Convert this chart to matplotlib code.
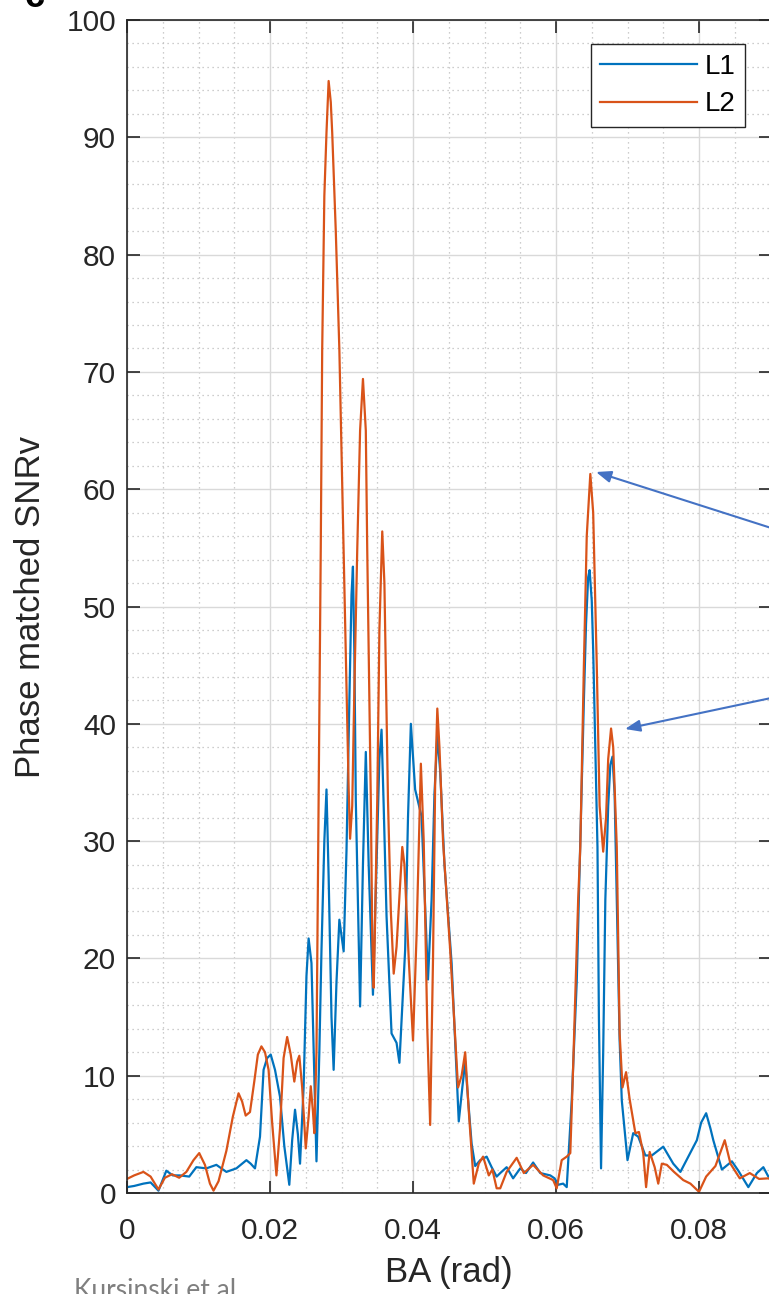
import numpy as np
import matplotlib.pyplot as plt
from matplotlib.ticker import MultipleLocator
from matplotlib.patches import FancyArrowPatch

# Phase matched SNRv against bending angle, L1 and L2
ba_l1 = [0.0000, 0.0010, 0.0023, 0.0033, 0.0044, 0.0055, 0.0064, 0.0074, 0.0087, 0.0097,
         0.0111, 0.0125, 0.0139, 0.0153, 0.0167, 0.0173, 0.0179, 0.0186, 0.0191, 0.0196,
         0.0201, 0.0207, 0.0214, 0.0220, 0.0227, 0.0231, 0.0235, 0.0239, 0.0242, 0.0247,
         0.0251, 0.0254, 0.0258, 0.0262, 0.0265, 0.0269, 0.0272, 0.0276, 0.0279, 0.0282,
         0.0286, 0.0289, 0.0293, 0.0297, 0.0303, 0.0307, 0.0311, 0.0314, 0.0316, 0.0318,
         0.0320, 0.0326, 0.0330, 0.0334, 0.0338, 0.0344, 0.0349, 0.0353, 0.0356, 0.0359,
         0.0363, 0.0370, 0.0377, 0.0381, 0.0389, 0.0393, 0.0397, 0.0403, 0.0412, 0.0421,
         0.0426, 0.0430, 0.0434, 0.0438, 0.0444, 0.0454, 0.0464, 0.0469, 0.0473, 0.0477,
         0.0482, 0.0487, 0.0494, 0.0503, 0.0510, 0.0517, 0.0522, 0.0531, 0.0540, 0.0550,
         0.0558, 0.0568, 0.0578, 0.0592, 0.0598, 0.0603, 0.0610, 0.0615, 0.0622, 0.0629,
         0.0634, 0.0639, 0.0642, 0.0645, 0.0647, 0.0650, 0.0652, 0.0655, 0.0658, 0.0660,
         0.0663, 0.0666, 0.0669, 0.0673, 0.0676, 0.0679, 0.0682, 0.0685, 0.0689, 0.0692,
         0.0700, 0.0708, 0.0715, 0.0725, 0.0734, 0.0750, 0.0764, 0.0774, 0.0785, 0.0797,
         0.0803, 0.0810, 0.0816, 0.0820, 0.0832, 0.0840, 0.0846, 0.0855, 0.0869, 0.0881,
         0.0890, 0.0897, 0.0905]
snr_l1 = [0.5, 0.6, 0.8, 0.9, 0.2, 1.9, 1.5, 1.5, 1.4, 2.2,
          2.1, 2.4, 1.8, 2.1, 2.8, 2.5, 2.1, 4.8, 10.5, 11.5,
          11.8, 10.5, 8.2, 4.0, 0.7, 4.5, 7.1, 5.0, 2.5, 9.0,
          18.5, 21.7, 19.6, 10.0, 2.7, 12.0, 20.7, 30.0, 34.4, 27.0,
          15.0, 10.5, 18.0, 23.3, 20.6, 29.2, 42.0, 51.0, 53.4, 46.0,
          33.5, 15.9, 28.0, 37.6, 28.0, 16.9, 28.0, 37.0, 39.5, 33.0,
          23.6, 13.6, 12.8, 11.1, 20.7, 32.0, 40.0, 34.4, 32.1, 18.2,
          25.0, 34.0, 39.0, 36.0, 28.0, 19.6, 6.1, 9.0, 11.2, 8.0,
          4.2, 2.3, 2.8, 3.1, 2.2, 1.4, 1.7, 2.2, 1.25, 2.1,
          1.7, 2.6, 1.7, 1.5, 1.25, 0.7, 0.8, 0.5, 7.9, 18.0,
          30.0, 42.0, 48.5, 52.5, 53.1, 50.5, 46.3, 38.0, 29.5, 15.0,
          2.1, 12.0, 25.0, 33.0, 36.5, 37.2, 34.0, 25.0, 13.0, 7.9,
          2.8, 5.1, 4.8, 3.2, 3.2, 3.95, 2.5, 1.8, 3.1, 4.5,
          6.0, 6.8, 5.5, 4.5, 2.0, 2.4, 2.7, 1.9, 0.5, 1.7,
          2.2, 1.4, 1.2]

ba_l2 = [0.0000, 0.0010, 0.0023, 0.0033, 0.0044, 0.0053, 0.0063, 0.0073, 0.0083, 0.0093,
         0.0101, 0.0109, 0.0116, 0.0121, 0.0128, 0.0139, 0.0148, 0.0156, 0.0161, 0.0166,
         0.0172, 0.0178, 0.0183, 0.0188, 0.0193, 0.0198, 0.0203, 0.0209, 0.0214, 0.0219,
         0.0224, 0.0229, 0.0234, 0.0238, 0.0241, 0.0245, 0.0250, 0.0254, 0.0257, 0.0260,
         0.0262, 0.0265, 0.0268, 0.0271, 0.0273, 0.0276, 0.0279, 0.0282, 0.0285, 0.0287,
         0.0292, 0.0297, 0.0303, 0.0307, 0.0310, 0.0312, 0.0315, 0.0318, 0.0322, 0.0326,
         0.0330, 0.0334, 0.0336, 0.0341, 0.0343, 0.0345, 0.0346, 0.0350, 0.0353, 0.0357,
         0.0360, 0.0365, 0.0369, 0.0373, 0.0377, 0.0385, 0.0388, 0.0394, 0.0400, 0.0405,
         0.0411, 0.0415, 0.0420, 0.0424, 0.0428, 0.0431, 0.0434, 0.0437, 0.0442, 0.0452,
         0.0463, 0.0468, 0.0473, 0.0478, 0.0485, 0.0492, 0.0498, 0.0506, 0.0511, 0.0517,
         0.0522, 0.0531, 0.0545, 0.0555, 0.0568, 0.0582, 0.0596, 0.0601, 0.0608, 0.0615,
         0.0620, 0.0624, 0.0631, 0.0634, 0.0639, 0.0643, 0.0648, 0.0652, 0.0657, 0.0661,
         0.0666, 0.0670, 0.0673, 0.0677, 0.0680, 0.0685, 0.0689, 0.0693, 0.0698, 0.0703,
         0.0711, 0.0716, 0.0722, 0.0726, 0.0731, 0.0738, 0.0743, 0.0748, 0.0755, 0.0765,
         0.0778, 0.0788, 0.0800, 0.0810, 0.0823, 0.0836, 0.0844, 0.0857, 0.0871, 0.0884,
         0.0897, 0.0905]
snr_l2 = [1.2, 1.5, 1.8, 1.4, 0.3, 1.3, 1.6, 1.3, 1.8, 2.8,
          3.4, 2.4, 0.8, 0.2, 1.0, 3.6, 6.5, 8.5, 7.8, 6.6,
          6.9, 9.5, 11.8, 12.5, 12.0, 10.5, 6.0, 1.5, 5.5, 11.5,
          13.3, 11.8, 9.5, 11.2, 11.7, 9.0, 3.8, 6.5, 9.1, 7.0,
          5.1, 12.0, 33.5, 55.0, 71.9, 85.0, 90.4, 94.8, 93.0, 90.4,
          82.0, 71.9, 54.8, 43.4, 34.5, 30.2, 33.0, 43.0, 54.8, 65.0,
          69.4, 65.0, 54.8, 33.5, 22.0, 17.5, 20.0, 33.5, 48.0, 56.4,
          52.0, 33.5, 24.0, 18.7, 21.0, 29.5, 28.0, 20.0, 13.0, 22.0,
          36.6, 30.0, 14.0, 5.8, 20.0, 35.0, 41.3, 38.0, 30.0, 20.7,
          9.0, 10.0, 12.0, 7.0, 0.8, 2.5, 3.1, 1.5, 2.0, 0.4,
          0.4, 1.8, 3.0, 1.7, 2.4, 1.5, 1.1, 0.4, 2.8, 3.1,
          3.4, 10.8, 25.0, 29.5, 45.0, 56.0, 61.3, 58.0, 45.0, 33.0,
          29.1, 32.0, 37.0, 39.6, 38.0, 29.5, 13.6, 9.0, 10.3, 8.0,
          5.1, 5.2, 3.4, 0.5, 3.5, 2.2, 0.8, 2.5, 2.4, 1.8,
          1.1, 0.8, 0.1, 1.4, 2.3, 4.5, 2.5, 1.25, 1.7, 1.2,
          1.25, 1.0]

x_ticks = [0, 0.02, 0.04, 0.06, 0.08]
x_tick_labels = ['0', '0.02', '0.04', '0.06', '0.08']
y_ticks = [0, 10, 20, 30, 40, 50, 60, 70, 80, 90, 100]

W, H = 769, 1294
fig = plt.figure(figsize=(W / 100, H / 100), dpi=100)
plt.rcParams['font.family'] = ['Liberation Sans', 'DejaVu Sans']

ax_left, ax_right, ax_top, ax_bottom = 127, 770.5, 20, 1193
ax = fig.add_axes([ax_left / W, 1 - ax_bottom / H,
                   (ax_right - ax_left) / W, (ax_bottom - ax_top) / H])

ax.plot(ba_l1, snr_l1, color='#0072BD', lw=1.6, label='L1')
ax.plot(ba_l2, snr_l2, color='#D95319', lw=1.6, label='L2')

ax.set_xlim(0, 0.09)
ax.set_ylim(0, 100)
ax.set_xticks(x_ticks)
ax.set_xticklabels(x_tick_labels)
ax.set_yticks(y_ticks)
ax.xaxis.set_minor_locator(MultipleLocator(0.005))
ax.yaxis.set_minor_locator(MultipleLocator(2))

ax.grid(which='major', color='#d9d9d9', lw=1.0, ls='-')
ax.grid(which='minor', color='#bdbdbd', lw=0.9, ls=(0, (1, 3)))
ax.set_axisbelow(True)

for s in ax.spines.values():
    s.set_color('#262626')
    s.set_linewidth(1.2)

ax.tick_params(which='major', direction='in', length=9, width=1.2, top=True, right=True,
               labelsize=21.5, colors='#262626', pad=17)
ax.tick_params(axis='y', which='major', pad=8)
ax.tick_params(which='minor', length=0)

ax.set_xlabel('BA (rad)', fontsize=25, color='#262626', labelpad=8)
ax.set_ylabel('Phase matched SNRv', fontsize=25, color='#262626', labelpad=14)

leg = ax.legend(loc='upper right', bbox_to_anchor=(745 / W, 1 - 44 / H),
                bbox_transform=fig.transFigure, fontsize=20, frameon=True,
                fancybox=False, edgecolor='#262626', framealpha=1,
                handlelength=3.5, handletextpad=0.25, labelspacing=0.42,
                borderpad=0.35, borderaxespad=0)
leg.get_frame().set_linewidth(1.0)

# annotation arrows coming in from the right
for (x0, y0), (x1, y1) in [((790, 534), (596, 472)), ((790, 694), (625, 729))]:
    arr = FancyArrowPatch((x0 / W, 1 - y0 / H), (x1 / W, 1 - y1 / H),
                          transform=fig.transFigure, arrowstyle='-|>,head_length=9,head_width=3.5',
                          mutation_scale=1, color='#4472C4', lw=1.5, shrinkA=0, shrinkB=0)
    fig.add_artist(arr)

fig.text(25 / W, 1 - 7 / H, 'c', fontsize=26, fontweight='bold', color='black',
         ha='left', va='baseline')
fig.text(74 / W, 1 - 1298 / H, 'Kursinski et al.', fontsize=19, color='#7f7f7f',
         family=['Lato', 'DejaVu Sans'], ha='left', va='baseline')

fig.savefig('out.png', dpi=100)
